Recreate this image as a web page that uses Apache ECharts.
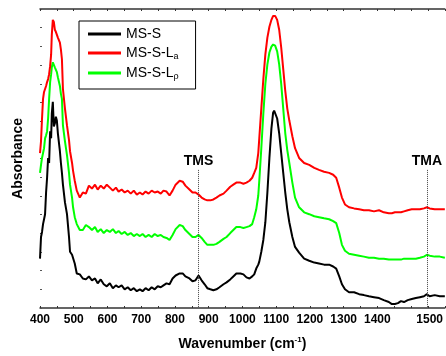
<!DOCTYPE html>
<html>
<head>
<meta charset="utf-8">
<script src="https://cdn.jsdelivr.net/npm/echarts@6/dist/echarts.min.js"></script>
<style>
  html, body { margin: 0; padding: 0; background: #fff; }
  #container { width: 446px; height: 356px; }
</style>
</head>
<body>
<div id="container"></div>
<script>
var dom = document.getElementById("container");
var myChart = echarts.init(dom, null, { renderer: "canvas" });

// wavenumber (cm-1), shared by the three spectra
var wavenumbers = [
    400, 403, 406, 409, 412, 415, 418, 421, 424, 427,
    430, 433, 435, 438, 441, 444, 447, 450, 453,
    459, 462, 465, 468, 474, 480, 486, 489, 495, 498,
    503, 509, 518, 527, 536, 545, 554, 563, 571, 580,
    589, 598, 607, 616, 625, 633, 642, 651, 660, 669,
    678, 687, 696, 704, 713, 722, 731, 740, 749, 758,
    766, 775, 784, 793, 802, 814, 823, 831, 843, 852,
    861, 870, 879, 888, 896, 905, 914, 923, 932, 944,
    953, 964, 973, 982, 994, 1003, 1012, 1021, 1029, 1035,
    1041, 1047, 1050, 1056, 1062, 1068, 1074, 1080, 1086, 1091,
    1094, 1097, 1103, 1109, 1115, 1121, 1127, 1133, 1139, 1148,
    1156, 1168, 1183, 1198, 1213, 1227, 1242, 1257, 1269, 1278,
    1287, 1295, 1304, 1316, 1331, 1346, 1360, 1375, 1390, 1405,
    1419, 1434, 1443, 1452, 1461, 1470, 1479, 1490, 1502, 1514,
    1526, 1538, 1547, 1550, 1555, 1570, 1585, 1600
];

// absorbance (arbitrary units, spectra offset as in the figure)
var absMSS = [
    2.64, 3.80, 4.07, 4.49, 4.75, 5.02, 6.18, 6.97, 8.03, 7.76,
    9.45, 9.08, 10.40, 11.03, 9.71, 9.87, 10.24, 10.03, 9.35,
    8.39, 7.76, 7.23, 6.60, 5.65, 5.02, 3.80, 3.01, 2.85, 2.90,
    2.38, 1.85, 1.80, 1.58, 1.53, 1.69, 1.48, 1.58, 1.32, 1.53,
    1.27, 1.16, 1.32, 1.06, 1.21, 1.11, 1.21, 1.00, 1.11, 0.95,
    1.06, 0.90, 1.00, 0.90, 1.06, 0.95, 1.11, 1.00, 1.16, 1.11,
    1.21, 1.32, 1.27, 1.58, 1.74, 1.85, 1.85, 1.69, 1.58, 1.43,
    1.48, 1.74, 1.48, 1.27, 1.06, 1.00, 0.95, 1.00, 1.11, 1.27,
    1.37, 1.53, 1.69, 1.85, 1.85, 1.80, 1.64, 1.58, 1.69, 1.80,
    2.11, 2.32, 2.48, 3.01, 3.64, 4.59, 6.18, 8.03, 9.61, 10.45,
    10.56, 10.51, 10.14, 9.35, 8.29, 7.23, 6.18, 5.28, 4.59, 3.80,
    3.27, 2.96, 2.64, 2.53, 2.43, 2.38, 2.32, 2.32, 2.22, 2.11,
    1.69, 1.27, 1.00, 0.84, 0.84, 0.74, 0.69, 0.63, 0.58, 0.53,
    0.42, 0.32, 0.21, 0.21, 0.26, 0.37, 0.32, 0.42, 0.48, 0.53,
    0.58, 0.63, 0.74, 0.79, 0.63, 0.69, 0.63, 0.63
];

var absMSSLa = [
    8.29, 8.92, 10.14, 11.19, 11.56, 11.72, 11.88, 12.09, 12.25, 12.51,
    12.94, 13.57, 14.63, 15.42, 15.31, 14.89, 14.78, 14.73, 14.47,
    14.20, 13.83, 13.31, 11.72, 10.67, 9.77, 8.98, 8.39, 7.76, 7.34,
    6.81, 6.28, 5.91, 6.18, 6.12, 6.55, 6.39, 6.60, 6.34, 6.55,
    6.39, 6.60, 6.44, 6.28, 6.44, 6.23, 6.34, 6.18, 6.28, 6.12,
    6.28, 6.07, 6.18, 6.07, 6.23, 6.12, 6.28, 6.18, 6.23, 6.12,
    6.28, 6.23, 6.02, 6.28, 6.60, 6.81, 6.76, 6.55, 6.34, 6.18,
    6.18, 6.07, 5.91, 5.81, 5.76, 5.76, 5.81, 5.91, 6.02, 6.12,
    6.28, 6.49, 6.60, 6.71, 6.71, 6.65, 6.71, 6.81, 6.97, 7.23,
    7.50, 8.29, 9.08, 10.67, 12.25, 13.57, 14.47, 15.05, 15.42, 15.63,
    15.68, 15.63, 15.42, 14.89, 13.94, 12.78, 11.62, 10.67, 10.03, 9.19,
    8.55, 8.03, 7.76, 7.66, 7.50, 7.39, 7.29, 7.23, 7.13, 6.97,
    6.44, 5.91, 5.54, 5.39, 5.33, 5.28, 5.23, 5.23, 5.17, 5.23,
    5.12, 5.07, 5.07, 5.12, 5.12, 5.12, 5.17, 5.23, 5.28, 5.28,
    5.28, 5.33, 5.39, 5.44, 5.33, 5.28, 5.28, 5.28
];

var absMSSLb = [
    7.23, 7.66, 8.03, 8.13, 8.55, 9.08, 9.24, 9.45, 10.14, 11.19,
    12.09, 12.51, 12.88, 13.15, 13.20, 12.88, 12.78, 12.62, 12.35,
    11.88, 11.46, 11.19, 9.77, 8.92, 8.18, 7.23, 6.60, 5.91, 5.39,
    4.86, 4.49, 4.17, 4.17, 4.44, 4.33, 4.17, 4.33, 4.07, 4.22,
    4.01, 4.17, 4.07, 4.22, 4.01, 4.12, 3.96, 4.07, 3.91, 4.01,
    3.85, 3.96, 3.85, 3.96, 3.80, 3.91, 3.80, 3.96, 3.85, 3.91,
    3.80, 3.75, 3.64, 3.91, 4.22, 4.44, 4.38, 4.17, 3.96, 3.80,
    3.80, 3.91, 3.75, 3.54, 3.38, 3.38, 3.38, 3.43, 3.54, 3.70,
    3.80, 4.01, 4.17, 4.33, 4.33, 4.28, 4.33, 4.38, 4.49, 4.86,
    5.28, 6.02, 6.81, 8.55, 10.40, 11.99, 13.04, 13.67, 13.99, 14.10,
    14.10, 14.04, 13.73, 13.04, 11.99, 10.67, 9.35, 8.45, 7.76, 6.71,
    5.91, 5.39, 5.12, 5.02, 4.91, 4.86, 4.80, 4.75, 4.65, 4.54,
    4.01, 3.38, 3.06, 2.90, 2.85, 2.80, 2.75, 2.69, 2.69, 2.64,
    2.64, 2.59, 2.59, 2.59, 2.59, 2.59, 2.64, 2.64, 2.64, 2.64,
    2.69, 2.75, 2.85, 2.90, 2.80, 2.75, 2.75, 2.69
];

var seriesNames = ["MS-S", "MS-S-La", "MS-S-L\u03c1"];
var seriesBase = ["MS-S", "MS-S-L", "MS-S-L"];
var seriesSub = ["", "a", "\u03c1"];
var seriesColors = ["#000000", "#ff0000", "#00ff00"];

// tick labels as printed under the axis (the "1500" sits further right in the figure)
var tickLabelValues = [400, 500, 600, 700, 800, 900, 1000, 1100, 1200, 1300, 1400, 1555];
var tickLabelTexts = ["400", "500", "600", "700", "800", "900", "1000", "1100", "1200", "1300", "1400", "1500"];
var tickValues = [400, 450, 500, 550, 600, 650, 700, 750, 800, 850, 900, 950, 1000,
    1050, 1100, 1150, 1200, 1250, 1300, 1350, 1400, 1450, 1500, 1550, 1600];

// band markers
var markerNames = ["TMS", "TMA"];
var markerWavenumbers = [870, 1547];
var markerTop = 7.39;

var font = "Liberation Sans";

function pairs(ys) {
    return wavenumbers.map(function (x, i) { return [x, ys[i]]; });
}

var markLineData = markerNames.map(function (name, i) {
    return [
        { name: name, coord: [markerWavenumbers[i], markerTop] },
        { coord: [markerWavenumbers[i], 0] }
    ];
});

var allAbs = [absMSS, absMSSLa, absMSSLb];

var series = allAbs.map(function (ys, i) {
    var s = {
        name: seriesNames[i],
        type: "line",
        data: pairs(ys),
        symbol: "none",
        lineStyle: { width: 2, color: seriesColors[i] },
        itemStyle: { color: seriesColors[i] },
        z: 3 - i
    };
    if (i === 0) {
        s.markLine = {
            silent: true,
            symbol: "none",
            lineStyle: { type: "dotted", color: "#444", width: 1 },
            label: {
                show: true,
                position: "start",
                formatter: "{b}",
                fontFamily: font,
                fontWeight: "bold",
                fontSize: 14,
                color: "#000",
                distance: 2
            },
            data: markLineData
        };
    }
    return s;
});

var option = {
    backgroundColor: "#fff",
    animation: false,
    grid: { left: 40, right: 0, top: 9, bottom: 44 },
    legend: {
        orient: "vertical",
        left: 79,
        top: 21,
        padding: [6, 17, 8, 9],
        itemGap: 5,
        itemWidth: 33,
        itemHeight: 3,
        icon: "rect",
        borderColor: "#000",
        borderWidth: 1,
        data: seriesNames,
        formatter: function (name) {
            var i = seriesNames.indexOf(name);
            return seriesSub[i] ? seriesBase[i] + "{sub|" + seriesSub[i] + "}" : seriesBase[i];
        },
        textStyle: {
            fontFamily: font,
            fontSize: 14,
            color: "#000",
            rich: {
                sub: { fontFamily: font, fontSize: 9, color: "#000", padding: [7, 0, 0, 0] }
            }
        }
    },
    xAxis: [
        {
            type: "value",
            min: 400,
            max: 1600,
            interval: 50,
            name: "Wavenumber (cm{sup|-1})",
            nameLocation: "middle",
            nameGap: 28,
            nameTextStyle: {
                fontFamily: font, fontWeight: "bold", fontSize: 14, color: "#000",
                rich: { sup: { fontFamily: font, fontWeight: "bold", fontSize: 8, padding: [0, 0, 8, 0] } }
            },
            axisLine: { show: true, lineStyle: { color: "#333", width: 1.5 } },
            axisTick: { show: true, inside: true, length: 2, customValues: tickValues, lineStyle: { color: "#333" } },
            axisLabel: {
                customValues: tickLabelValues,
                formatter: function (v) {
                    var i = tickLabelValues.indexOf(v);
                    return i >= 0 ? tickLabelTexts[i] : "";
                },
                fontFamily: font, fontWeight: "bold", fontSize: 12, color: "#000", margin: 6
            },
            splitLine: { show: false }
        },
        {
            type: "value",
            position: "top",
            min: 400,
            max: 1600,
            interval: 50,
            axisLine: { show: true, lineStyle: { color: "#333", width: 1.5 } },
            axisTick: { show: true, inside: true, length: 2, customValues: tickValues, lineStyle: { color: "#333" } },
            axisLabel: { show: false },
            splitLine: { show: false }
        }
    ],
    yAxis: {
        type: "value",
        min: 0,
        max: 16,
        interval: 1,
        name: "Absorbance",
        nameLocation: "middle",
        nameGap: 15,
        nameTextStyle: { fontFamily: font, fontWeight: "bold", fontSize: 14, color: "#000" },
        axisLine: { show: false },
        axisTick: { show: true, inside: true, length: 2, lineStyle: { color: "#555" } },
        axisLabel: { show: false },
        splitLine: { show: false }
    },
    series: series
};

myChart.setOption(option);

window.addEventListener("resize", myChart.resize);
</script>
</body>
</html>
